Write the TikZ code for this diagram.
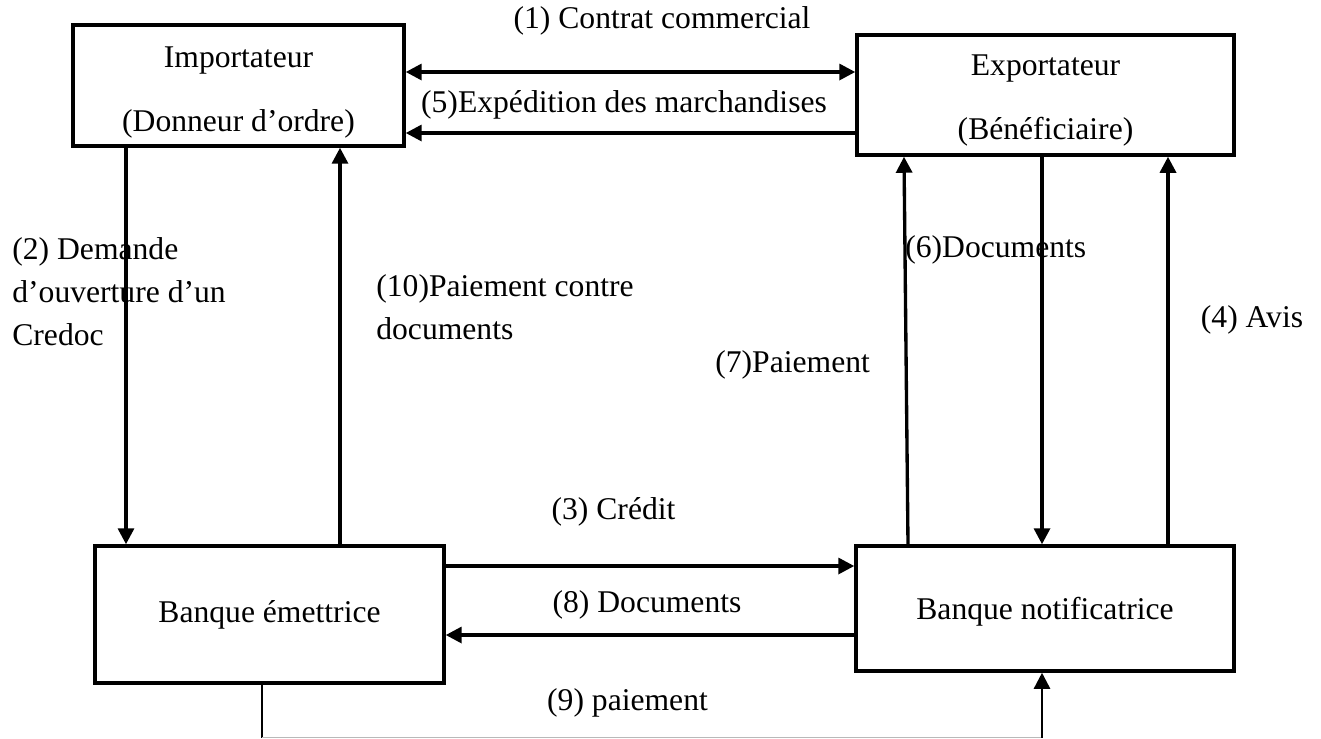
\documentclass[tikz,border=0pt]{standalone}
\usepackage{fontspec}
\setmainfont{Liberation Serif}
\usetikzlibrary{arrows.meta}

\tikzset{
  bloc/.style={draw,line width=2pt,inner sep=0pt,align=center},
  fleche/.style={line width=1.9pt,-{Triangle[length=0.32cm,width=0.32cm]}},
  double fleche/.style={line width=1.9pt,{Triangle[length=0.32cm,width=0.32cm]}-{Triangle[length=0.32cm,width=0.32cm]}},
  etiq/.style={inner sep=0pt}
}

\begin{document}
\begin{tikzpicture}[x=0.02cm,y=-0.02cm,font=\fontsize{18}{24.4}\selectfont]
%\draw[help lines,step=100] (0,0) grid (1321,738);
\useasboundingbox (0,0) rectangle (1321,738);

\node[bloc,minimum width=6.62cm,minimum height=2.42cm] (imp) at (238.5,85.5) {\rule{0pt}{0.68cm}Importateur\\[0.42cm](Donneur d’ordre)};
\node[bloc,minimum width=7.54cm,minimum height=2.4cm] (exp) at (1045.5,95) {\rule{0pt}{0.64cm}Exportateur\\[0.42cm](Bénéficiaire)};
\node[bloc,minimum width=6.98cm,minimum height=2.74cm] (bem) at (269.5,614.5) {Banque émettrice};
\node[bloc,minimum width=7.56cm,minimum height=2.5cm] (bno) at (1045,608.5) {\rule{0pt}{0.56cm}Banque notificatrice};

\coordinate (b9g) at (262,737.5);
\coordinate (b9d) at (1042,737.5);

% flux entre les parties
\draw[double fleche] (imp.east |- 0,72) -- (exp.west |- 0,72);
\draw[fleche] (exp.west |- 0,133) -- (imp.east |- 0,133);
\draw[fleche] (imp.south -| 126,0) -- (bem.north -| 126,0);
\draw[fleche] (bem.north -| 340,0) -- (imp.south -| 340,0);
\draw[fleche] (bem.east |- 0,566) -- (bno.west |- 0,566);
\draw[fleche] (bno.west |- 0,635) -- (bem.east |- 0,635);
\draw[fleche] (bno.north -| 908,0) -- (exp.south -| 904,0);
\draw[fleche] (exp.south -| 1042,0) -- (bno.north -| 1042,0);
\draw[fleche] (bno.north -| 1168,0) -- (exp.south -| 1168,0);
\draw[line width=1.2pt] (bem.south -| b9g) -- (b9g);
\draw[gray!55,line width=0.7pt] (b9g) -- (b9d);
\draw[fleche,line width=1.4pt] (b9d) -- (bno.south -| b9d);

\node[etiq] (l1) at (662,21) {(1) Contrat commercial};
\node[etiq] (l5) at (624,105) {(5)Expédition des marchandises};
\node[etiq,anchor=west,align=left] (l2) at (12,292) {(2) Demande\\d’ouverture d’un\\Credoc};
\node[etiq,anchor=west,align=left] (l10) at (376,307.5) {(10)Paiement contre\\documents};
\node[etiq,anchor=west] (l7) at (715,365) {(7)Paiement};
\node[etiq,anchor=west] (l6) at (905,250) {(6)Documents};
\node[etiq] (l4) at (1252,320) {(4) Avis};
\node[etiq] (l3) at (613.5,512) {(3) Crédit};
\node[etiq] (l8) at (647,605) {(8) Documents};
\node[etiq] (l9) at (627.5,703) {(9) paiement};

\end{tikzpicture}
\end{document}
